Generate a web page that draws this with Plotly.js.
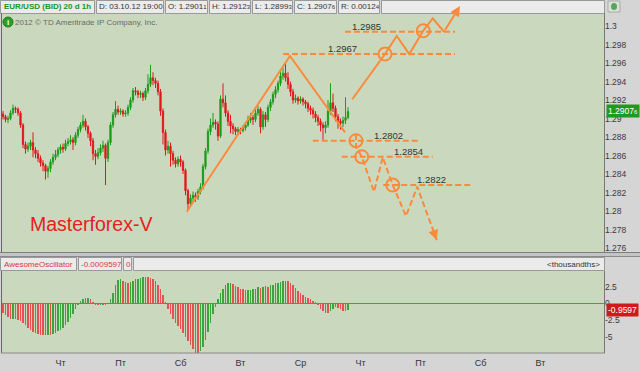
<!DOCTYPE html>
<html><head><meta charset="utf-8">
<script src="https://cdn.plot.ly/plotly-3.0.1.min.js"></script>
<style>html,body{margin:0;padding:0;background:#d5d5d5;}#chart{width:640px;height:371px;}</style>
</head><body><div id="chart"></div>
<script>
// ---------- DATA ----------
const openP=[1.2905,1.2902,1.2899,1.2900,1.2906,1.2911,1.2910,1.2906,1.2893,1.2872,
1.2867,1.2870,1.2874,1.2866,1.2862,1.2857,1.2852,1.2849,1.2843,1.2846,
1.2853,1.2858,1.2861,1.2866,1.2869,1.2867,1.2873,1.2875,1.2877,1.2874,
1.2882,1.2888,1.2893,1.2897,1.2891,1.2884,1.2876,1.2862,1.2859,1.2863,
1.2868,1.2871,1.2857,1.2874,1.2893,1.2904,1.2910,1.2907,1.2908,1.2905,
1.2906,1.2912,1.2920,1.2930,1.2929,1.2926,1.2927,1.2923,1.2930,1.2937,
1.2944,1.2941,1.2938,1.2929,1.2908,1.2885,1.2866,1.2870,1.2862,1.2855,
1.2851,1.2856,1.2853,1.2844,1.2822,1.2808,1.2814,1.2817,1.2815,1.2821,
1.2826,1.2848,1.2865,1.2886,1.2893,1.2896,1.2894,1.2881,1.2921,1.2917,
1.2906,1.2897,1.2892,1.2889,1.2886,1.2888,1.2887,1.2890,1.2893,1.2898,
1.2901,1.2899,1.2906,1.2910,1.2891,1.2904,1.2899,1.2912,1.2918,1.2926,
1.2931,1.2938,1.2946,1.2949,1.2944,1.2937,1.2929,1.2920,1.2922,1.2919,
1.2921,1.2918,1.2916,1.2911,1.2909,1.2905,1.2901,1.2897,1.2893,1.2890,
1.2893,1.2908,1.2917,1.2911,1.2902,1.2897,1.2895,1.2898,1.29011];
const highP=[1.2908,1.2904,1.2903,1.2909,1.2915,1.2913,1.2912,1.2908,1.2895,1.2875,
1.2874,1.2877,1.2885,1.2869,1.2866,1.2860,1.2855,1.2851,1.2849,1.2856,
1.2862,1.2866,1.2869,1.2872,1.2873,1.2877,1.2879,1.2882,1.2880,1.2885,
1.2891,1.2896,1.2904,1.2900,1.2893,1.2886,1.2879,1.2866,1.2868,1.2872,
1.2876,1.2873,1.2877,1.2896,1.2907,1.2919,1.2914,1.2911,1.2910,1.2909,
1.2915,1.2923,1.2933,1.2934,1.2931,1.2930,1.2929,1.2933,1.2948,1.2958,
1.2950,1.2944,1.2941,1.2932,1.2911,1.2888,1.2876,1.2874,1.2865,1.2858,
1.2859,1.2860,1.2855,1.2846,1.2824,1.2818,1.2821,1.2820,1.2824,1.2830,
1.2851,1.2868,1.2889,1.2900,1.2906,1.2899,1.2897,1.2925,1.2938,1.2925,
1.2909,1.2904,1.2895,1.2891,1.2891,1.2890,1.2893,1.2896,1.2903,1.2906,
1.2904,1.2910,1.2914,1.2912,1.2908,1.2907,1.2915,1.2921,1.2929,1.2935,
1.2941,1.2952,1.2955,1.2960,1.2950,1.2940,1.2932,1.2926,1.2924,1.2924,
1.2923,1.2920,1.2918,1.2914,1.2912,1.2908,1.2904,1.2900,1.2896,1.2897,
1.2920,1.2938,1.2927,1.2914,1.2905,1.2900,1.2902,1.2923,1.29123];
const lowP=[1.2899,1.2896,1.2895,1.2898,1.2904,1.2906,1.2903,1.2890,1.2868,1.2862,
1.2864,1.2866,1.2858,1.2857,1.2853,1.2848,1.2843,1.2834,1.2836,1.2842,
1.2850,1.2855,1.2858,1.2862,1.2863,1.2865,1.2870,1.2872,1.2866,1.2871,
1.2879,1.2885,1.2890,1.2887,1.2879,1.2870,1.2855,1.2850,1.2856,1.2860,
1.2864,1.2828,1.2853,1.2871,1.2890,1.2901,1.2904,1.2904,1.2902,1.2902,
1.2903,1.2909,1.2917,1.2925,1.2922,1.2922,1.2919,1.2920,1.2927,1.2934,
1.2936,1.2933,1.2925,1.2903,1.2872,1.2860,1.2862,1.2848,1.2850,1.2847,
1.2848,1.2848,1.2840,1.2817,1.2801,1.2805,1.2810,1.2810,1.2812,1.2818,
1.2823,1.2845,1.2862,1.2882,1.2890,1.2888,1.2876,1.2879,1.2912,1.2902,
1.2892,1.2884,1.2883,1.2882,1.2883,1.2883,1.2885,1.2887,1.2891,1.2895,
1.2893,1.2896,1.2903,1.2884,1.2888,1.2891,1.2896,1.2908,1.2915,1.2922,
1.2928,1.2935,1.2942,1.2940,1.2932,1.2924,1.2916,1.2917,1.2915,1.2916,
1.2914,1.2911,1.2907,1.2904,1.2900,1.2896,1.2892,1.2886,1.2877,1.2884,
1.2890,1.2904,1.2907,1.2897,1.2889,1.2888,1.2891,1.2894,1.28993];
const closeP=[1.2902,1.2899,1.2900,1.2906,1.2911,1.2910,1.2906,1.2893,1.2872,1.2867,
1.2870,1.2874,1.2866,1.2862,1.2857,1.2852,1.2849,1.2843,1.2846,1.2853,
1.2858,1.2861,1.2866,1.2869,1.2867,1.2873,1.2875,1.2877,1.2874,1.2882,
1.2888,1.2893,1.2897,1.2891,1.2884,1.2876,1.2862,1.2859,1.2863,1.2868,
1.2871,1.2857,1.2874,1.2893,1.2904,1.2910,1.2907,1.2908,1.2905,1.2906,
1.2912,1.2920,1.2930,1.2929,1.2926,1.2927,1.2923,1.2930,1.2937,1.2944,
1.2941,1.2938,1.2929,1.2908,1.2885,1.2866,1.2870,1.2862,1.2855,1.2851,
1.2856,1.2853,1.2844,1.2822,1.2808,1.2814,1.2817,1.2815,1.2821,1.2826,
1.2848,1.2865,1.2886,1.2893,1.2896,1.2894,1.2881,1.2921,1.2917,1.2906,
1.2897,1.2892,1.2889,1.2886,1.2888,1.2887,1.2890,1.2893,1.2898,1.2901,
1.2899,1.2906,1.2910,1.2891,1.2904,1.2899,1.2912,1.2918,1.2926,1.2931,
1.2938,1.2946,1.2949,1.2944,1.2937,1.2929,1.2920,1.2922,1.2919,1.2921,
1.2918,1.2916,1.2911,1.2909,1.2905,1.2901,1.2897,1.2893,1.2890,1.2893,
1.2908,1.2917,1.2911,1.2902,1.2897,1.2895,1.2898,1.2901,1.29076];
// Awesome Oscillator, thousandths
const aoVals=[-1.5,-1.8,-2.1,-2.3,-2.3,-2.4,-2.5,-2.6,-2.9,-3.3,
-3.7,-4.0,-4.3,-4.5,-4.6,-4.7,-4.75,-4.8,-4.7,-4.75,
-4.6,-4.4,-4.2,-4.0,-3.7,-3.3,-2.8,-2.2,-1.6,-0.9,
-0.3,0.3,0.6,0.75,0.8,0.7,0.2,-0.2,-0.3,-0.3,
-0.2,-0.3,-0.1,0.6,1.6,2.7,3.5,3.6,3.4,3.2,
3.1,3.2,3.4,3.6,3.7,3.8,3.9,3.95,3.9,3.8,
3.6,3.3,2.8,2.1,1.2,0.2,-0.8,-1.6,-2.3,-2.9,
-3.4,-3.9,-4.4,-5.0,-5.6,-6.3,-6.9,-7.4,-7.6,-7.2,
-6.5,-5.5,-4.3,-2.9,-1.6,-0.5,0.6,1.5,2.2,2.7,
3.0,3.1,2.9,2.6,2.4,2.2,2.1,2.0,2.0,2.05,
2.1,2.2,2.4,2.3,2.5,2.6,2.5,2.7,2.8,3.0,
3.1,3.2,3.3,3.4,3.3,3.1,2.7,2.3,1.9,1.5,
1.2,1.0,0.8,0.6,0.4,0.2,-0.3,-0.8,-1.2,-1.4,
-1.5,-1.1,-0.8,-0.6,-0.7,-0.9,-1.1,-1.2,-0.9597];
const priceTicks=[1.3,1.298,1.296,1.294,1.292,1.29,1.288,1.286,1.284,1.282,1.28,1.278,1.276];
const priceTickText=['1.3','1.298','1.296','1.294','1.292','1.29','1.288','1.286','1.284','1.282','1.28','1.278','1.276'];
const aoTicks=[2.5,0,-2.5,-5];
const aoTickText=['2.5','0','-2.5','-5'];
const dayIdx=[23,47,71,95,119,143,167,191,215];
const dayLabels=['Чт','Пт','Сб','Вт','Ср','Чт','Пт','Сб','Вт'];
// drawn analysis (bar index, price)
const wedgeIdx=[73.5,114.8,136.8];
const wedgePrice=[1.27992,1.29676,1.28851];
const bullIdx=[139.7,152.8,157.5,162.5,168.1,171.9,176.4];
const bullPrice=[1.29208,1.29697,1.29892,1.29697,1.29949,1.30083,1.29938];
const bullTip=[182.8,1.30216];
const bearIdx=[141.2,141.2,143.5,148.4,151.9,155.9,161.2,165.7,173.5];
const bearPrice=[1.28832,1.28692,1.28587,1.28209,1.28581,1.28281,1.27946,1.28263,1.27686];
const circleIdx=[141.2,143.5,155.9,152.8,168.1];
const circlePrice=[1.28760,1.28587,1.28281,1.29697,1.29949];
const levelLabels=['1.2985','1.2967','1.2802','1.2854','1.2822'];
const levelPrice=[1.29938,1.29697,1.28760,1.28587,1.28281];
const levelStart=[136.8,112,123.9,135.5,152.1];
const levelEnd=[180.8,180.8,166.5,171.9,187.1];
const levelLabelIdx=[145.5,135.9,154,162,171.5];

// ---------- CHART ----------
const W=640,H=371;
const px=x=>x/W, py=y=>1-y/H;
const FONT='Liberation Sans, Arial, sans-serif';
const ORANGE='#fb8a3c', GREEN='#1c9b1c', RED='#e3171b';
const idx=closeP.map((_,i)=>i);
const n=closeP.length;

const traces=[];
traces.push({type:'candlestick',x:idx,open:openP,high:highP,low:lowP,close:closeP,xaxis:'x',yaxis:'y',
  increasing:{line:{color:GREEN,width:1},fillcolor:GREEN},decreasing:{line:{color:RED,width:1},fillcolor:RED},
  whiskerwidth:0,hoverinfo:'skip'});
const aoColors=aoVals.map((v,i)=> (i>0 && v<aoVals[i-1]) ? '#e65050' : (i===0?'#e65050':'#3aa53a'));
traces.push({type:'bar',x:idx,y:aoVals,xaxis:'x2',yaxis:'y2',width:0.5,marker:{color:aoColors,line:{width:0}},hoverinfo:'skip'});
const lx=[],ly=[];
levelPrice.forEach((p,i)=>{lx.push(levelStart[i],levelEnd[i],null);ly.push(p,p,null);});
traces.push({type:'scatter',mode:'lines',x:lx,y:ly,xaxis:'x',yaxis:'y',line:{color:ORANGE,width:2,dash:'6px,3px'},hoverinfo:'skip'});
traces.push({type:'scatter',mode:'lines',x:wedgeIdx,y:wedgePrice,xaxis:'x',yaxis:'y',line:{color:ORANGE,width:2},hoverinfo:'skip'});
traces.push({type:'scatter',mode:'lines',x:bullIdx,y:bullPrice,xaxis:'x',yaxis:'y',line:{color:ORANGE,width:2},hoverinfo:'skip'});
traces.push({type:'scatter',mode:'lines',x:bearIdx,y:bearPrice,xaxis:'x',yaxis:'y',line:{color:ORANGE,width:2,dash:'6px,3px'},hoverinfo:'skip'});
traces.push({type:'scatter',mode:'markers',x:circleIdx,y:circlePrice,xaxis:'x',yaxis:'y',cliponaxis:false,
  marker:{symbol:'circle-open',size:13,color:ORANGE,line:{width:2,color:ORANGE}},hoverinfo:'skip'});

const shapes=[], ann=[];
function rect(x0,y0,x1,y1,fill,line){shapes.push({type:'rect',xref:'paper',yref:'paper',x0:px(x0),x1:px(x1),y0:py(y1),y1:py(y0),
  fillcolor:fill,line:{color:line||fill,width:line?1:0},layer:'above'});}
function hline(x0,x1,y,c){shapes.push({type:'line',xref:'paper',yref:'paper',x0:px(x0),x1:px(x1),y0:py(y),y1:py(y),line:{color:c,width:1},layer:'above'});}
function vline(x,y0,y1,c){shapes.push({type:'line',xref:'paper',yref:'paper',x0:px(x),x1:px(x),y0:py(y0),y1:py(y1),line:{color:c,width:1},layer:'above'});}
function txt(x,y,t,o){o=o||{};ann.push({xref:'paper',yref:'paper',x:px(x),y:py(y),text:t,showarrow:false,xanchor:o.anchor||'left',yanchor:'middle',
  font:{family:FONT,size:o.size||8,color:o.color||'#333'},borderpad:0});}
function sm(s){return s.slice(0,-1)+"<span style='font-size:6px'>"+s.slice(-1)+"</span>";}

const hb=[[0,95],[96,164],[165,208],[209,251],[252,293],[294,337],[338,380],[381,605]];
hb.forEach(b=>rect(b[0]+0.5,0.5,b[1]-0.5,13.5,'#ebebeb','#999'));
const L=n-1;
txt(3,7,'<b>EUR/USD (BID) 20 d 1h</b>',{color:'#17961a',size:8});
txt(98,7,'D: 03.10.12 19:00');
txt(167,7,'O: '+sm(openP[L].toFixed(5)));
txt(211,7,'H: '+sm(highP[L].toFixed(5)));
txt(254,7,'L: '+sm(lowP[L].toFixed(5)));
txt(296,7,'C: '+sm(closeP[L].toFixed(5)));
txt(340,7,'R: '+sm('0.00124'));
rect(608,1,620,12,'#d8e2d8','#aaa');
shapes.push({type:'circle',xref:'paper',yref:'paper',x0:px(611),x1:px(617),y0:py(10),y1:py(3),fillcolor:'#5aa55a',line:{width:0},layer:'above'});
shapes.push({type:'circle',xref:'paper',yref:'paper',x0:px(3),x1:px(13),y0:py(27),y1:py(17),fillcolor:'#2a9d2a',line:{color:'#1b7a1b',width:1},layer:'above'});
txt(6.2,22,'<b>i</b>',{color:'#fff',size:8});
txt(14,22,'2012 © TD Ameritrade IP Company, Inc.',{color:'#6a6a6a',size:8});
rect(0,252,640,257,'#c4c4c4');
hline(0,640,252.5,'#7d7d7d');hline(0,640,256.5,'#8a8a8a');
const ob=[[0,77],[78,122],[123,132],[133,605]];
ob.forEach(b=>rect(b[0]+0.5,257.5,b[1]-0.5,270.5,'#ebebeb','#999'));
txt(3,264,'AwesomeOscillator',{color:'#d9383a'});
txt(80,264,(aoVals[L]/1000).toFixed(7),{color:'#d9383a'});
txt(125,264,'0',{color:'#d9383a'});
txt(601,264,'&lt;thousandths&gt;',{anchor:'right'});
vline(1.5,13,252,'#666');vline(604.5,13,252,'#777');
vline(1.5,271,353,'#666');vline(604.5,271,353,'#777');hline(1,605,353,'#888');
txt(29,224,'Masterforex-V',{color:'#e8201c',size:19.5});
levelLabels.forEach((t,i)=>ann.push({xref:'x',yref:'y',x:levelLabelIdx[i],y:levelPrice[i],yanchor:'bottom',xanchor:'center',yshift:-1,
  text:t,showarrow:false,font:{family:FONT,size:9.5,color:'#333'},borderpad:0}));
ann.push({xref:'x',yref:'y',axref:'x',ayref:'y',x:bullTip[0],y:bullTip[1],ax:bullIdx[bullIdx.length-1],ay:bullPrice[bullPrice.length-1],
  text:'',showarrow:true,arrowhead:2,arrowsize:1,arrowwidth:2,arrowcolor:ORANGE});
ann.push({xref:'x',yref:'y',x:bearIdx[bearIdx.length-1],y:bearPrice[bearPrice.length-1],ax:-3.4,ay:-9.4,
  text:'',showarrow:true,arrowhead:2,arrowsize:1,arrowwidth:2,arrowcolor:ORANGE});
ann.push({xref:'paper',yref:'y',x:px(606),y:closeP[L],xanchor:'left',yanchor:'middle',text:sm(closeP[L].toFixed(5)),showarrow:false,
  bgcolor:'#1f9a1f',font:{family:FONT,size:8.5,color:'#fff'},borderpad:1});
ann.push({xref:'paper',yref:'y2',x:px(606),y:aoVals[L],xanchor:'left',yanchor:'middle',text:aoVals[L].toFixed(4),showarrow:false,
  bgcolor:'#cf1a1a',font:{family:FONT,size:8.5,color:'#fff'},borderpad:1});

const layout={width:W,height:H,margin:{l:0,r:0,t:0,b:0,pad:0},paper_bgcolor:'#d5d5d5',plot_bgcolor:'#cad9bd',
  showlegend:false,hovermode:false,dragmode:false,bargap:0,font:{family:FONT},
  xaxis:{domain:[px(2),px(604)],range:[-0.4,240.4],showticklabels:false,showgrid:false,zeroline:false,ticks:'',rangeslider:{visible:false},anchor:'y'},
  yaxis:{domain:[py(252),py(14)],range:[1.27557,1.30130],side:'right',anchor:'x',tickvals:priceTicks,ticktext:priceTickText,ticks:'',
    showgrid:false,zeroline:false,tickfont:{family:FONT,size:8.5,color:'#3a3a3a'}},
  xaxis2:{domain:[px(2),px(604)],range:[-0.4,240.4],anchor:'y2',tickvals:dayIdx,ticktext:dayLabels,ticks:'',showgrid:false,zeroline:false,
    ticklabelstandoff:3,tickfont:{family:FONT,size:9,color:'#333'}},
  yaxis2:{domain:[py(353),py(271)],range:[-7.45,4.84],side:'right',anchor:'x2',tickvals:aoTicks,ticktext:aoTickText,ticks:'',showgrid:false,
    zeroline:true,zerolinecolor:'#e05050',zerolinewidth:1,tickfont:{family:FONT,size:8.5,color:'#3a3a3a'}},
  shapes:shapes,annotations:ann};
Plotly.newPlot('chart',traces,layout,{staticPlot:true,displayModeBar:false});
</script></body></html>
